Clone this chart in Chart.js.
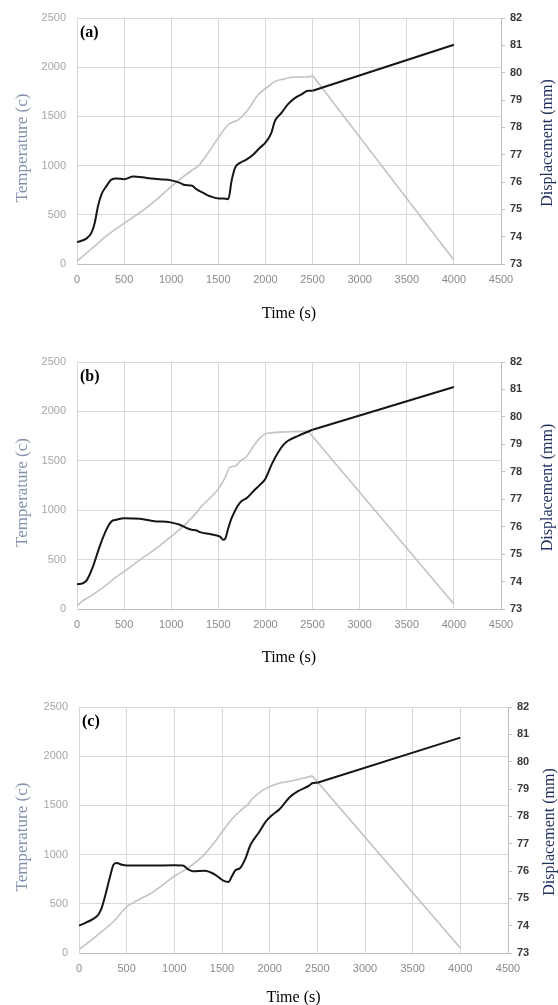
<!DOCTYPE html>
<html>
<head>
<meta charset="utf-8">
<script src="https://cdn.jsdelivr.net/npm/chart.js@4/dist/chart.umd.min.js"></script>
<style>
  html, body { margin: 0; padding: 0; background: #fff; overflow: hidden; }
  canvas { position: absolute; left: 0; }
</style>
</head>
<body>
<canvas id="chartA" width="558" height="330" style="top:0px"></canvas>
<canvas id="chartB" width="558" height="340" style="top:330px"></canvas>
<canvas id="chartC" width="558" height="350" style="top:660px"></canvas>
<script>
// tick labels
var timeTicks = [0, 500, 1000, 1500, 2000, 2500, 3000, 3500, 4000, 4500];
var tempTicks = [0, 500, 1000, 1500, 2000, 2500];
var dispTicks = [73, 74, 75, 76, 77, 78, 79, 80, 81, 82];

// (a)
var timeTempA = [0, 150, 332, 509, 686, 862, 1039, 1216, 1286, 1392, 1498, 1604, 1710, 1816, 1922, 2011, 2099, 2200, 2300, 2450, 2500, 4000];
var tempA = [30, 150, 300, 420, 535, 670, 820, 950, 995, 1130, 1280, 1415, 1465, 1570, 1720, 1790, 1855, 1880, 1900, 1900, 1915, 40];
var timeDispA = [0, 99, 153, 188, 223, 259, 312, 365, 418, 500, 596, 738, 879, 1000, 1092, 1145, 1216, 1270, 1340, 1411, 1500, 1553, 1606, 1641, 1677, 1730, 1801, 1872, 1943, 2000, 2064, 2099, 2170, 2240, 2311, 2383, 2454, 2500, 4000];
var dispA = [73.80, 73.93, 74.14, 74.50, 75.12, 75.54, 75.85, 76.09, 76.13, 76.10, 76.20, 76.15, 76.10, 76.06, 75.97, 75.89, 75.87, 75.73, 75.60, 75.48, 75.40, 75.40, 75.37, 76.05, 76.52, 76.70, 76.83, 77.01, 77.26, 77.44, 77.81, 78.22, 78.53, 78.85, 79.07, 79.21, 79.34, 79.34, 81.02];

// (b)
var timeTempB = [0, 64, 135, 241, 312, 383, 500, 667, 844, 1000, 1163, 1270, 1305, 1411, 1500, 1571, 1624, 1677, 1730, 1801, 1872, 1943, 2000, 2064, 2156, 2300, 2454, 4000];
var tempB = [30, 85, 125, 193, 244, 301, 379, 497, 616, 734, 869, 978, 1022, 1123, 1215, 1326, 1438, 1444, 1495, 1546, 1647, 1732, 1773, 1783, 1790, 1795, 1800, 50];
var timeDispB = [0, 64, 106, 170, 241, 312, 365, 418, 500, 667, 844, 950, 1000, 1092, 1163, 1216, 1270, 1305, 1411, 1482, 1518, 1553, 1571, 1606, 1641, 1730, 1801, 1872, 1943, 2000, 2064, 2121, 2190, 2240, 2348, 2500, 4000];
var dispB = [73.90, 73.94, 74.06, 74.55, 75.28, 75.89, 76.19, 76.25, 76.31, 76.29, 76.19, 76.18, 76.15, 76.07, 75.95, 75.89, 75.86, 75.80, 75.73, 75.68, 75.64, 75.52, 75.55, 75.95, 76.31, 76.88, 77.04, 77.29, 77.53, 77.75, 78.25, 78.63, 78.98, 79.13, 79.31, 79.53, 81.09];

// (c)
var timeTempC = [0, 113, 220, 362, 500, 574, 752, 862, 1000, 1144, 1303, 1426, 1500, 1603, 1709, 1762, 1815, 1922, 2000, 2097, 2240, 2387, 2447, 4000];
var tempC = [35, 118, 203, 320, 470, 515, 605, 680, 780, 865, 990, 1130, 1230, 1360, 1460, 1500, 1565, 1650, 1690, 1725, 1750, 1785, 1800, 50];
var timeDispC = [0, 78, 149, 202, 238, 273, 326, 362, 397, 450, 500, 752, 1000, 1089, 1142, 1195, 1319, 1426, 1514, 1567, 1603, 1638, 1691, 1745, 1798, 1887, 1957, 2028, 2100, 2210, 2298, 2422, 2440, 2500, 4000];
var dispC = [74.00, 74.12, 74.25, 74.40, 74.65, 75.07, 75.80, 76.23, 76.29, 76.23, 76.20, 76.20, 76.21, 76.20, 76.07, 75.99, 76.01, 75.87, 75.65, 75.60, 75.80, 76.02, 76.11, 76.45, 76.95, 77.41, 77.80, 78.05, 78.25, 78.70, 78.92, 79.14, 79.20, 79.23, 80.88];

function pts(xs, ys) {
  var out = [];
  for (var i = 0; i < xs.length; i++) out.push({x: xs[i], y: ys[i]});
  return out;
}

// panel letter and both rotated axis titles (both read bottom to top, like Excel)
var extraText = {
  id: 'extraText',
  afterDraw: function(chart, args, opts) {
    var ctx = chart.ctx, a = chart.chartArea;
    var midY = (a.top + a.bottom) / 2;
    ctx.save();
    ctx.fillStyle = '#000';
    ctx.font = 'bold 16px "Liberation Serif"';
    ctx.textBaseline = 'middle';
    ctx.textAlign = 'left';
    ctx.fillText(opts.panel, a.left + 3, a.top + 14.5);

    ctx.textAlign = 'center';
    ctx.save();
    ctx.translate(23, midY + 7);
    ctx.rotate(-Math.PI / 2);
    ctx.font = '17px "Liberation Serif"';
    ctx.fillStyle = '#8292ad';
    ctx.fillText('Temperature (c)', 0, 0);
    ctx.restore();

    ctx.translate(opts.rightTitleX, midY + 2);
    ctx.rotate(-Math.PI / 2);
    ctx.font = '16px "Liberation Serif"';
    ctx.fillStyle = '#1f2f5e';
    ctx.fillText('Displacement (mm)', 0, 0);
    ctx.restore();
  }
};

function line(data, axis, color, width, smooth) {
  return {
    data: data,
    yAxisID: axis,
    borderColor: color,
    borderWidth: width,
    pointRadius: 0,
    tension: 0,
    cubicInterpolationMode: smooth ? 'monotone' : 'default',
    fill: false
  };
}

function makeChart(id, c) {
  var tickList = function(vals) {
    return function(scale) { scale.ticks = vals.map(function(v) { return {value: v}; }); };
  };
  var plain = function(v) { return String(v); };
  var black = '#161616', gray = '#c3c3c3';
  new Chart(document.getElementById(id), {
    type: 'line',
    data: {
      datasets: [
        // heating part is smooth, the cool-down after 2500 s is a straight run
        line(pts(c.timeDisp.slice(0, -1), c.disp.slice(0, -1)), 'y1', black, 2, true),
        line(pts(c.timeDisp.slice(-2), c.disp.slice(-2)), 'y1', black, 2, false),
        line(pts(c.timeTemp.slice(0, -1), c.temp.slice(0, -1)), 'y', gray, 1.6, true),
        line(pts(c.timeTemp.slice(-2), c.temp.slice(-2)), 'y', gray, 1.6, false)
      ]
    },
    options: {
      responsive: false,
      animation: false,
      layout: { padding: { top: c.plotTop, left: 0, right: 0, bottom: 0 } },
      plugins: {
        legend: { display: false },
        tooltip: { enabled: false },
        extraText: { panel: c.panel, rightTitleX: c.rightTitleX }
      },
      scales: {
        x: {
          type: 'linear',
          min: 0, max: 4500,
          afterBuildTicks: tickList(timeTicks),
          afterFit: function(s) { s.height = c.bottomH; },
          grid: { color: '#d9d9d9', drawTicks: false },
          border: { color: '#bfbfbf' },
          ticks: { padding: 9, color: '#8a8a8a', callback: plain, font: { family: 'Liberation Sans', size: 11 } },
          title: {
            display: true, text: 'Time (s)', color: '#000',
            font: { family: 'Liberation Serif', size: 16 },
            padding: { top: 0, bottom: c.titlePad }
          }
        },
        y: {
          position: 'left',
          min: 0, max: 2500,
          afterBuildTicks: tickList(tempTicks),
          afterFit: function(s) { s.width = c.leftW; },
          grid: { color: '#d9d9d9', drawTicks: false },
          border: { color: '#d9d9d9' },
          ticks: { padding: 11, color: '#a6a6a6', callback: plain, font: { family: 'Liberation Sans', size: 11 } }
        },
        y1: {
          position: 'right',
          min: 73, max: 82,
          afterBuildTicks: tickList(dispTicks),
          afterFit: function(s) { s.width = c.rightW; },
          grid: { drawOnChartArea: false, drawTicks: true, tickLength: 4, color: '#bfbfbf' },
          border: { color: '#bfbfbf' },
          ticks: { padding: 5, color: '#3a3a3a', callback: plain, font: { family: 'Liberation Sans', size: 11, weight: 'bold' } }
        }
      }
    },
    plugins: [extraText]
  });
}

makeChart('chartA', {
  panel: '(a)', timeTemp: timeTempA, temp: tempA, timeDisp: timeDispA, disp: dispA,
  plotTop: 18, bottomH: 66, leftW: 77, rightW: 57, titlePad: 7, rightTitleX: 548
});
makeChart('chartB', {
  panel: '(b)', timeTemp: timeTempB, temp: tempB, timeDisp: timeDispB, disp: dispB,
  plotTop: 32, bottomH: 61, leftW: 77, rightW: 57, titlePad: 3, rightTitleX: 548
});
makeChart('chartC', {
  panel: '(c)', timeTemp: timeTempC, temp: tempC, timeDisp: timeDispC, disp: dispC,
  plotTop: 47, bottomH: 57, leftW: 79, rightW: 50, titlePad: 3, rightTitleX: 550
});
</script>
</body>
</html>
